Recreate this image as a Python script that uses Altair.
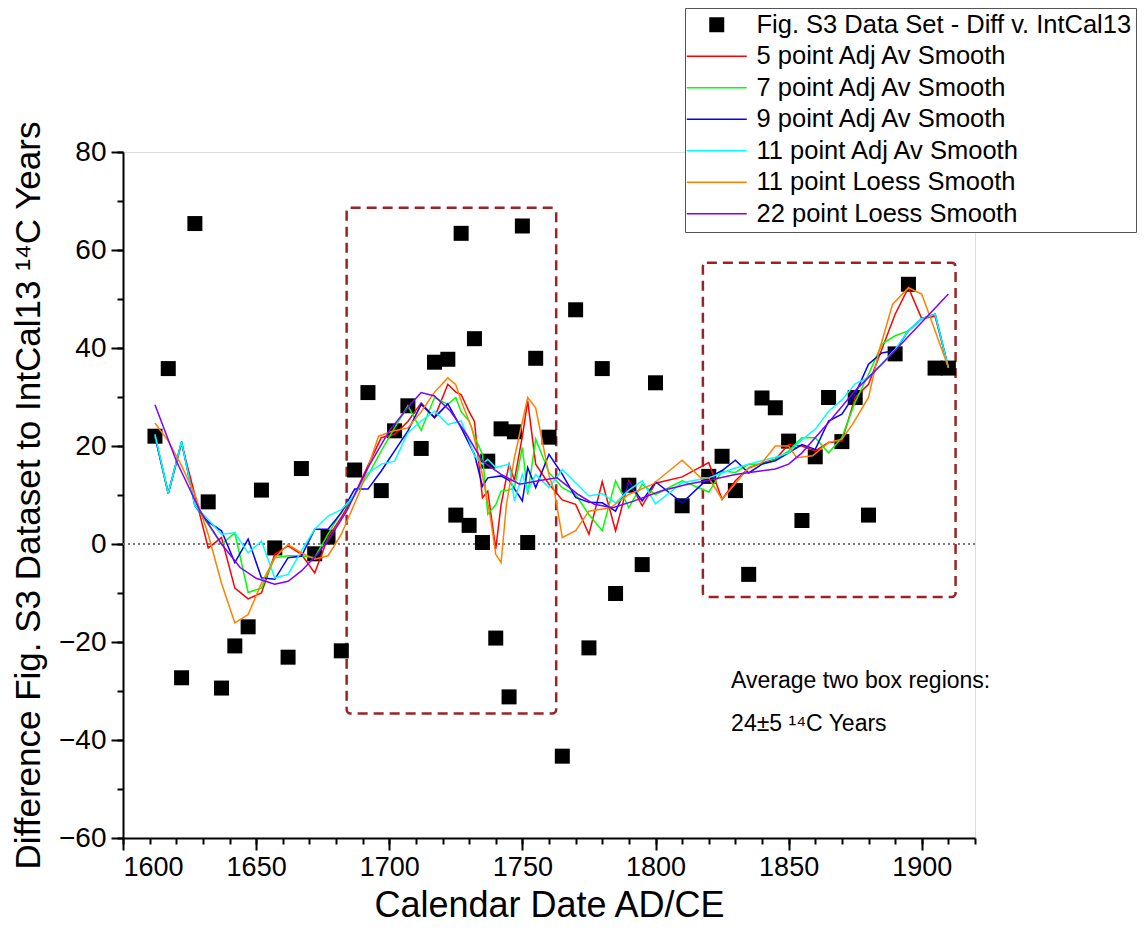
import altair as alt
import pandas as pd

# ---- measured differences (calendar year, 14C years) ----
data_years = [1612, 1617, 1622, 1627, 1632, 1637, 1642, 1647, 1652, 1657, 1662, 1667,
              1672, 1677, 1682, 1687, 1692, 1697, 1702, 1707, 1712, 1717, 1722, 1725,
              1727, 1730, 1732, 1735, 1737, 1740, 1742, 1745, 1747, 1750, 1752, 1755,
              1760, 1765, 1770, 1775, 1780, 1785, 1790, 1795, 1800, 1810, 1820, 1825,
              1830, 1835, 1840, 1845, 1850, 1855, 1860, 1865, 1870, 1875, 1880, 1890,
              1895, 1905, 1910]
data_diff = [22.0, 35.8, -27.3, 65.4, 8.6, -29.4, -20.8, -16.9, 11.0, -0.8, -23.1, 15.4,
             -2.0, 1.4, -21.8, 15.1, 30.9, 10.9, 23.1, 28.2, 19.5, 37.1, 37.7, 5.9,
             63.4, 3.8, 41.9, 0.3, 16.9, -19.2, 23.5, -31.2, 22.9, 64.9, 0.3, 37.9,
             21.8, -43.3, 47.8, -21.2, 35.8, -10.1, 12.0, -4.2, 32.9, 7.8, 13.8, 17.9,
             10.9, -6.2, 29.8, 27.8, 21.0, 4.8, 17.8, 29.9, 20.9, 29.9, 5.9, 38.8,
             53.0, 35.9, 35.9]

# ---- smoothed curves ----
adj5_years = [1612, 1617, 1622, 1627, 1632, 1637, 1642, 1647, 1652, 1657, 1662, 1667,
              1672, 1677, 1682, 1687, 1692, 1697, 1702, 1707, 1712, 1717, 1722, 1725,
              1727, 1730, 1732, 1735, 1737, 1740, 1742, 1745, 1747, 1750, 1752, 1755,
              1760, 1765, 1770, 1775, 1780, 1785, 1790, 1795, 1800, 1810, 1820, 1825,
              1830, 1835, 1840, 1845, 1850, 1855, 1860, 1865, 1870, 1875, 1880, 1890,
              1895, 1900, 1905, 1910]
adj5_vals = [22.0, 10.3, 20.5, 10.0, -0.8, 1.3, -9.0, -11.2, -10.0, -2.1, -0.4, -2.1,
             -5.9, 1.3, 5.5, 10.1, 16.0, 21.7, 22.4, 25.0, 28.8, 25.8, 32.6, 31.0,
             30.5, 27.0, 25.0, 9.4, 10.8, -1.0, 8.0, 16.3, 13.0, 22.0, 29.2, 16.3,
             12.2, 9.0, 8.1, 2.0, 12.7, 2.7, 12.9, 7.8, 12.4, 13.7, 16.6, 9.1,
             12.9, 15.5, 16.5, 17.3, 20.3, 20.0, 19.0, 20.7, 21.0, 29.9, 32.6, 46.9,
             52.3, 46.0, 46.5, 36.0]

adj7_years = [1612, 1617, 1622, 1627, 1632, 1637, 1642, 1647, 1652, 1657, 1662, 1667,
              1672, 1677, 1682, 1687, 1692, 1697, 1702, 1707, 1712, 1717, 1722, 1725,
              1727, 1730, 1732, 1735, 1737, 1740, 1742, 1745, 1747, 1750, 1752, 1755,
              1760, 1765, 1770, 1775, 1780, 1785, 1790, 1795, 1800, 1810, 1820, 1825,
              1830, 1835, 1840, 1845, 1850, 1855, 1860, 1865, 1870, 1875, 1880, 1885,
              1890, 1895, 1900, 1905, 1910]
adj7_vals = [22.0, 10.3, 20.9, 7.8, 4.0, -0.1, 2.3, -9.9, -9.0, -2.8, -2.4, -2.4,
             -2.8, 2.0, 6.5, 10.0, 14.0, 19.0, 23.7, 28.2, 23.2, 29.9, 28.5, 29.9,
             27.0, 25.1, 22.0, 18.3, 6.1, 8.0, 10.8, 11.0, 11.5, 19.7, 10.1, 21.4,
             14.6, 11.5, 10.1, 6.0, 2.7, 12.9, 7.4, 12.2, 10.1, 12.9, 10.6, 14.9,
             14.6, 16.3, 16.3, 17.2, 19.0, 21.7, 21.7, 18.6, 21.7, 29.0, 34.6, 40.8,
             42.5, 43.5, 46.0, 46.9, 36.0]

adj9_years = [1612, 1617, 1622, 1627, 1632, 1637, 1642, 1647, 1652, 1657, 1662, 1667,
              1672, 1677, 1682, 1687, 1692, 1697, 1702, 1707, 1712, 1717, 1722, 1727,
              1732, 1735, 1737, 1742, 1745, 1750, 1752, 1755, 1760, 1765, 1770, 1775,
              1780, 1785, 1790, 1795, 1800, 1810, 1820, 1825, 1830, 1835, 1840, 1845,
              1850, 1855, 1860, 1865, 1870, 1875, 1880, 1885, 1890, 1895, 1900, 1905,
              1910]
adj9_vals = [22.0, 10.3, 20.9, 7.8, 4.5, 2.7, -3.8, 1.0, -6.9, -7.2, -2.8, -2.5,
             3.0, 3.0, 6.4, 11.2, 11.2, 14.9, 19.0, 23.1, 28.5, 25.8, 28.6, 23.7,
             18.3, 11.8, 13.5, 13.9, 13.0, 8.8, 15.6, 11.5, 18.3, 14.2, 9.5, 8.5,
             8.4, 6.7, 12.5, 8.8, 12.7, 8.4, 13.5, 15.0, 17.1, 14.5, 16.3, 17.0,
             18.6, 20.3, 19.3, 25.1, 26.5, 30.6, 36.7, 39.0, 39.5, 43.5, 46.0, 46.9,
             36.0]

adj11_years = [1612, 1617, 1622, 1627, 1632, 1637, 1642, 1647, 1652, 1657, 1662, 1667,
               1672, 1677, 1682, 1687, 1692, 1697, 1702, 1707, 1712, 1717, 1722, 1727,
               1730, 1732, 1735, 1737, 1740, 1745, 1747, 1750, 1752, 1755, 1760, 1765,
               1770, 1775, 1780, 1785, 1790, 1795, 1800, 1810, 1820, 1825, 1830, 1835,
               1840, 1845, 1850, 1855, 1860, 1865, 1870, 1875, 1880, 1890, 1895, 1900,
               1905, 1910]
adj11_vals = [22.4, 10.3, 20.9, 7.8, 5.0, 2.0, 2.3, -1.8, 0.6, -6.9, -6.2, -1.4,
              3.0, 5.7, 7.0, 10.0, 14.5, 16.3, 16.9, 22.7, 25.1, 27.1, 24.4, 25.1,
              21.0, 18.0, 16.3, 17.3, 15.6, 16.3, 8.8, 14.2, 10.8, 14.2, 11.5, 15.2,
              12.5, 9.8, 10.3, 8.4, 11.0, 12.9, 8.2, 12.5, 13.5, 14.5, 15.5, 16.3,
              17.0, 17.7, 18.6, 21.3, 23.4, 27.1, 29.4, 32.7, 34.0, 39.7, 43.5, 46.0,
              46.9, 36.0]

loess11_years = [1612, 1617, 1622, 1627, 1632, 1637, 1642, 1647, 1652, 1657, 1662, 1667,
                 1672, 1677, 1682, 1689, 1696, 1701, 1707, 1712, 1717, 1722, 1725, 1727,
                 1731, 1734, 1738, 1740, 1742, 1744, 1747, 1752, 1755, 1760, 1762, 1765,
                 1770, 1775, 1783, 1790, 1799, 1810, 1817, 1820, 1825, 1835, 1840, 1845,
                 1850, 1853, 1859, 1865, 1870, 1874, 1880, 1884, 1889, 1895, 1900, 1910]
loess11_vals = [24.7, 21.0, 16.0, 10.1, 2.0, -8.0, -16.1, -14.4, -8.0, -2.8, -0.1, -1.8,
                -3.1, -2.4, 2.0, 10.8, 22.0, 23.0, 23.7, 27.0, 31.0, 33.9, 32.5, 29.2,
                23.7, 16.9, 5.4, -2.1, -3.8, 8.0, 17.6, 29.9, 27.8, 14.0, 10.8, 1.3,
                2.7, 6.7, 7.4, 10.1, 12.2, 17.1, 13.5, 13.5, 9.1, 15.6, 16.6, 20.0,
                20.0, 17.6, 18.0, 20.7, 21.4, 24.4, 29.9, 39.4, 48.9, 52.3, 51.0, 36.0]

loess22_years = [1612, 1620, 1629, 1637, 1644, 1650, 1657, 1662, 1667, 1673, 1678, 1684,
                 1692, 1700, 1708, 1712, 1717, 1723, 1729, 1735, 1742, 1749, 1756, 1763,
                 1771, 1777, 1784, 1792, 1802, 1812, 1820, 1830, 1838, 1845, 1850, 1855,
                 1865, 1875, 1885, 1890, 1910]
loess22_vals = [28.4, 17.0, 6.7, 0.0, -4.8, -7.0, -8.2, -7.6, -5.5, -2.1, 1.5, 6.7,
                15.6, 23.1, 28.5, 30.9, 30.2, 27.1, 22.4, 16.9, 14.2, 12.2, 12.9, 13.5,
                10.1, 8.1, 7.4, 8.8, 10.8, 12.2, 13.0, 14.2, 14.8, 15.3, 16.3, 18.6,
                24.8, 31.3, 36.7, 39.5, 51.0]

# ---- dashed boxes and note ----
box_left = [1684.0, 1817.8]
box_right = [1762.7, 1912.7]
box_top = [68.6, 57.4]
box_bottom = [-34.6, -10.8]

note_text = ["Average two box regions:", "24\u00b15 \u00b9\u2074C Years"]
note_year = [1828.4, 1828.4]
note_val = [-29.4, -38.2]

series_names = ["Fig. S3 Data Set - Diff v. IntCal13",
                "5 point Adj Av Smooth",
                "7 point Adj Av Smooth",
                "9 point Adj Av Smooth",
                "11 point Adj Av Smooth",
                "11 point Loess Smooth",
                "22 point Loess Smooth"]
series_colors = ["#000000", "#FF0000", "#00FF00", "#0000FF", "#00FFFF", "#FF8000", "#8000FF"]

# legend glyphs: a filled square for the data, a long thin bar for each curve
LINE_GLYPH = "M-4,-0.11H4V0.11H-4Z"
series_shapes = ["square"] + [LINE_GLYPH] * 6

SANS = "Liberation Sans, Arial, sans-serif"

x_scale = alt.Scale(domain=[1600, 1920], nice=False, zero=False)
y_scale = alt.Scale(domain=[-60, 80], nice=False, zero=False)

x_axis = alt.Axis(values=list(range(1600, 1901, 50)), format="d", tickSize=12,
                  tickWidth=2, domainWidth=2, domainColor="black", tickColor="black",
                  labelFont=SANS, labelFontSize=27, labelColor="black", labelPadding=4,
                  title="Calendar Date AD/CE", titleFont=SANS, titleFontSize=36,
                  titleFontWeight="normal", titleColor="black", titlePadding=8,
                  grid=False, orient="bottom")
y_axis = alt.Axis(values=list(range(-60, 81, 20)), tickSize=12, tickWidth=2,
                  domainWidth=2, domainColor="black", tickColor="black",
                  labelFont=SANS, labelFontSize=28, labelColor="black", labelPadding=5,
                  title="Difference Fig. S3 Dataset to IntCal13 \u00b9\u2074C Years",
                  titleFont=SANS, titleFontSize=35, titleFontWeight="normal",
                  titleColor="black", titlePadding=12, grid=False, orient="left")

x_minor = alt.Axis(values=list(range(1600, 1921, 10)), tickSize=6, tickWidth=2,
                   tickColor="black", labels=False, domain=False, title=None,
                   grid=False, orient="bottom")
y_minor = alt.Axis(values=list(range(-60, 81, 10)), tickSize=6, tickWidth=2,
                   tickColor="black", labels=False, domain=False, title=None,
                   grid=False, orient="left")

points = pd.DataFrame({"year": data_years, "diff": data_diff, "series": series_names[0]})

legend = alt.Legend(title=None, orient="none", legendX=562, legendY=-144,
                    direction="vertical", labelFont=SANS, labelFontSize=25.5,
                    labelColor="black", labelLimit=600, labelOffset=27,
                    symbolOffset=15, symbolSize=225, padding=4, rowPadding=4.5,
                    strokeColor="#555555", fillColor="white",
                    symbolStrokeWidth=0, symbolOpacity=1, symbolLimit=20)

color_enc = alt.Color("series:N", scale=alt.Scale(domain=series_names, range=series_colors),
                      legend=legend)
shape_enc = alt.Shape("series:N", scale=alt.Scale(domain=series_names, range=series_shapes),
                      legend=legend)

base_x = alt.X("year:Q", scale=x_scale, axis=x_axis)
base_y = alt.Y("diff:Q", scale=y_scale, axis=y_axis)

# minor tick marks (invisible marks carrying the minor-tick axes)
minor = alt.Chart(points).mark_point(opacity=0).encode(
    x=alt.X("year:Q", scale=x_scale, axis=x_minor),
    y=alt.Y("diff:Q", scale=y_scale, axis=y_minor),
)

zero_line = alt.Chart(pd.DataFrame({"v": [0]})).mark_rule(
    color="#7a7a7a", strokeDash=[2, 3], strokeWidth=2
).encode(y=alt.Y("v:Q", scale=y_scale, axis=None))

boxes = alt.Chart(pd.DataFrame({"x1": box_left, "x2": box_right,
                                "y1": box_top, "y2": box_bottom})).mark_rect(
    fill="transparent", stroke="#9a2323", strokeWidth=2.5, strokeDash=[10, 6],
    cornerRadius=4
).encode(x=alt.X("x1:Q", scale=x_scale, axis=None), x2="x2:Q",
         y=alt.Y("y1:Q", scale=y_scale, axis=None), y2="y2:Q")

scatter = alt.Chart(points).mark_point(filled=True, opacity=1, strokeWidth=0, size=225).encode(
    x=base_x, y=base_y, color=color_enc, shape=shape_enc
)

curves = [
    (adj5_years, adj5_vals, series_names[1]),
    (adj7_years, adj7_vals, series_names[2]),
    (adj9_years, adj9_vals, series_names[3]),
    (adj11_years, adj11_vals, series_names[4]),
    (loess11_years, loess11_vals, series_names[5]),
    (loess22_years, loess22_vals, series_names[6]),
]
line_layers = []
for yrs, vals, name in curves:
    df = pd.DataFrame({"year": yrs, "diff": vals, "series": name})
    line_layers.append(
        alt.Chart(df).mark_line(strokeWidth=1.5).encode(
            x=alt.X("year:Q", scale=x_scale, axis=None),
            y=alt.Y("diff:Q", scale=y_scale, axis=None),
            color=alt.Color("series:N",
                            scale=alt.Scale(domain=series_names, range=series_colors),
                            legend=None),
        )
    )

note = alt.Chart(pd.DataFrame({"t": note_text, "x": note_year, "y": note_val})).mark_text(
    align="left", baseline="alphabetic", font=SANS, fontSize=23, color="black"
).encode(x=alt.X("x:Q", scale=x_scale, axis=None),
         y=alt.Y("y:Q", scale=y_scale, axis=None), text="t:N")

chart = alt.layer(
    minor, zero_line, boxes, scatter, *line_layers, note
).resolve_axis(x="independent", y="independent").properties(
    width=852, height=686,
    autosize=alt.AutoSizeParams(type="none"),
    padding={"left": 123, "top": 152, "right": 172, "bottom": 107},
).configure_view(stroke=None).configure(background="white")

chart.save("out.html", embed_options={"renderer": "svg", "actions": False})
